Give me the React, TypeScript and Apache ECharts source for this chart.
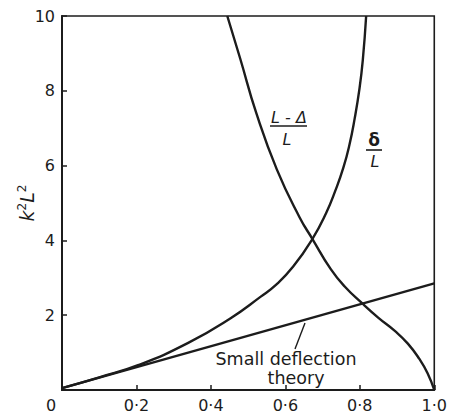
import React, { useEffect, useRef } from "react";
import * as echarts from "echarts";

// Horizontal axis ticks (δ/L and (L-Δ)/L ratios) and vertical ticks (k²L²)
const xTicks = [0, 0.2, 0.4, 0.6, 0.8, 1.0];
const yTicks = [0, 2, 4, 6, 8, 10];

// Linear small-deflection result: k²L² against δ/L
const smallDeflection: [number, number][] = [
  [0, 0.05],
  [1.0, 2.85],
];

// Large-deflection lateral displacement δ/L
const deltaOverL: [number, number][] = [
  [0, 0.05],
  [0.1, 0.34],
  [0.206, 0.67],
  [0.339, 1.26],
  [0.453, 1.92],
  [0.533, 2.49],
  [0.577, 2.83],
  [0.621, 3.3],
  [0.672, 4.03],
  [0.709, 4.72],
  [0.735, 5.35],
  [0.756, 5.95],
  [0.772, 6.55],
  [0.786, 7.25],
  [0.799, 8.05],
  [0.808, 8.82],
  [0.817, 10],
];

// Horizontal projection (L-Δ)/L
const projOverL: [number, number][] = [
  [0.444, 10],
  [0.479, 8.85],
  [0.522, 7.4],
  [0.577, 5.9],
  [0.638, 4.62],
  [0.672, 4.05],
  [0.722, 3.23],
  [0.76, 2.76],
  [0.806, 2.32],
  [0.85, 1.93],
  [0.894, 1.58],
  [0.929, 1.24],
  [0.96, 0.83],
  [0.982, 0.45],
  [1.0, 0],
];

const INK = "#1c1c1c";
const FONT = "DejaVu Sans, Liberation Sans, sans-serif";

const fmtTick = (v: number) => {
  if (Math.abs(v) < 1e-9) return "{o|0}";
  return v.toFixed(1).replace(".", "·");
};

export default function App() {
  const ref = useRef<HTMLDivElement>(null);

  useEffect(() => {
    if (!ref.current) return;
    const chart = echarts.init(ref.current, null, { renderer: "svg" });

    const curve = (data: [number, number][], smooth: number | boolean) => ({
      type: "line" as const,
      data,
      smooth,
      symbol: "none",
      silent: true,
      lineStyle: { color: INK, width: 2.4 },
    });

    const italic = (text: string, x: number, y: number) => ({
      type: "text" as const,
      x,
      y,
      style: {
        text,
        fontFamily: FONT,
        fontStyle: "italic",
        fontSize: 16,
        fill: INK,
        align: "center",
        verticalAlign: "middle",
      },
    });

    chart.setOption({
      animation: false,
      backgroundColor: "#ffffff",
      grid: {
        left: 62,
        right: 10,
        top: 16,
        bottom: 25,
        show: true,
        borderColor: INK,
        borderWidth: 1.6,
      },
      xAxis: {
        type: "value",
        min: xTicks[0],
        max: xTicks[xTicks.length - 1],
        interval: 0.2,
        axisLine: { show: true, lineStyle: { color: INK, width: 2 } },
        axisTick: { show: true, inside: true, length: 5, lineStyle: { color: INK, width: 1.5 } },
        splitLine: { show: false },
        axisLabel: {
          color: INK,
          fontFamily: FONT,
          fontSize: 16,
          margin: 7,
          formatter: fmtTick,
          rich: {
            o: { color: INK, fontFamily: FONT, fontSize: 16, padding: [0, 22, 0, 0] },
          },
        },
      },
      yAxis: {
        type: "value",
        min: yTicks[0],
        max: yTicks[yTicks.length - 1],
        interval: 2,
        name: "{i|k}{s|2}{i|L}{s|2}",
        nameLocation: "middle",
        nameRotate: 90,
        nameGap: 24,
        nameMoveOverlap: false,
        nameTextStyle: {
          rich: {
            i: { fontFamily: FONT, fontStyle: "italic", fontSize: 19, color: INK, lineHeight: 22 },
            s: { fontFamily: FONT, fontSize: 12, color: INK, verticalAlign: "top", lineHeight: 22 },
          },
        },
        axisLine: { show: true, lineStyle: { color: INK, width: 2 } },
        axisTick: { show: true, inside: true, length: 5, lineStyle: { color: INK, width: 1.5 } },
        splitLine: { show: false },
        axisLabel: {
          color: INK,
          fontFamily: FONT,
          fontSize: 16,
          margin: 7,
          formatter: (v: number) => (v === 0 ? "" : String(v)),
        },
      },
      series: [
        curve(smallDeflection, false),
        curve(deltaOverL, 0.5),
        curve(projOverL, 0.5),
      ],
      graphic: [
        // (L-Δ)/L label
        italic("L - Δ", 289, 117),
        {
          type: "line",
          shape: { x1: 270, y1: 126, x2: 307, y2: 126 },
          style: { stroke: INK, lineWidth: 1.6 },
        },
        italic("L", 287, 139),
        // δ/L label
        {
          type: "text",
          x: 374,
          y: 140,
          style: {
            text: "δ",
            fontFamily: FONT,
            fontSize: 17,
            fontWeight: "bold",
            fill: INK,
            align: "center",
            verticalAlign: "middle",
          },
        },
        {
          type: "line",
          shape: { x1: 366, y1: 150, x2: 382, y2: 150 },
          style: { stroke: INK, lineWidth: 1.6 },
        },
        italic("L", 375, 161),
        // Small deflection theory note and its leader
        {
          type: "line",
          shape: { x1: 295, y1: 349, x2: 305, y2: 323 },
          style: { stroke: INK, lineWidth: 1.4 },
        },
        {
          type: "text",
          x: 291,
          y: 368,
          style: {
            text: "{a|Small deflection}\n{b|theory}",
            align: "center",
            verticalAlign: "middle",
            rich: {
              a: { fontFamily: FONT, fontSize: 17.5, fill: INK, lineHeight: 19, padding: [0, 10, 0, 0] },
              b: { fontFamily: FONT, fontSize: 17.5, fill: INK, lineHeight: 19, padding: [0, 0, 0, 10] },
            },
          },
        },
      ],
    });

    return () => chart.dispose();
  }, []);

  return <div ref={ref} style={{ width: 450, height: 415, position: "absolute", left: 0, top: 0 }} />;
}
